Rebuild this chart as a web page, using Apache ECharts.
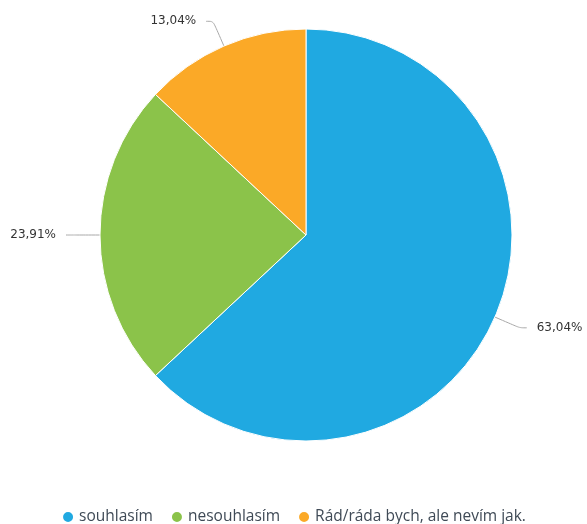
<!DOCTYPE html>
<html>
<head>
<meta charset="utf-8">
<script src="https://cdn.jsdelivr.net/npm/echarts@6/dist/echarts.min.js"></script>
<style>
  html, body { margin: 0; padding: 0; background: #ffffff; }
  #chart { width: 587px; height: 524px; }
</style>
</head>
<body>
<div id="chart"></div>
<script>
// Survey answers and number of respondents per answer
const categories = ['souhlasím', 'nesouhlasím', 'Rád/ráda bych, ale nevím jak.'];
const counts = [29, 11, 6];
const colors = ['#20a9e1', '#8bc34a', '#fba927'];

const total = counts.reduce((a, b) => a + b, 0);
// Share of each answer, two decimals with a decimal comma
const pct = v => (v / total * 100).toFixed(2).replace('.', ',') + '%';

const chart = echarts.init(document.getElementById('chart'), null, { renderer: 'canvas' });

chart.setOption({
  animation: false,
  color: colors,
  legend: {
    data: categories,
    bottom: -6,
    left: 'center',
    icon: 'circle',
    itemWidth: 12,
    itemHeight: 12,
    itemGap: 17,
    textStyle: { fontFamily: 'Open Sans', fontSize: 15.5, color: '#3f4a56' }
  },
  series: [{
    type: 'pie',
    center: [306, 235],
    radius: [0, 206],
    startAngle: 90,
    clockwise: true,
    data: categories.map((name, i) => ({ name, value: counts[i] })),
    itemStyle: { borderColor: '#ffffff', borderWidth: 1 },
    label: {
      show: true,
      overflow: 'none',
      fontFamily: 'DejaVu Sans',
      fontSize: 12,
      color: '#333333',
      distanceToLabelLine: 10,
      formatter: p => pct(p.value)
    },
    labelLine: {
      show: true,
      smooth: 0.3,
      length: 27,
      length2: 7,
      lineStyle: { color: '#a8a8a8', width: 1 }
    },
    emphasis: { disabled: true }
  }]
});
</script>
</body>
</html>
